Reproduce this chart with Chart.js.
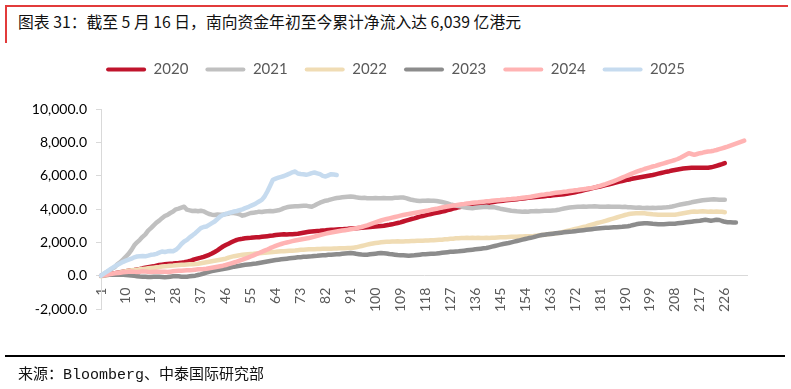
<!DOCTYPE html>
<html>
<head>
<meta charset="utf-8">
<script src="https://cdn.jsdelivr.net/npm/chart.js@4.4.1/dist/chart.umd.min.js"></script>
<style>
  body { margin: 0; background: #fff; }
  #page { position: relative; width: 791px; height: 389px; overflow: hidden; }
  .frameTop { position: absolute; left: 5px; top: 5px; width: 783px; height: 2px; background: #e23b3b; }
  .frameLeft { position: absolute; left: 5px; top: 5px; width: 2px; height: 38px; background: #e23b3b; }
  .title { position: absolute; left: 18px; top: 11px; font: 15.8px "Noto Sans CJK SC", sans-serif; color: #111; line-height: 22px; white-space: nowrap; }
  #chartContainer { position: absolute; left: 0; top: 0; width: 791px; height: 389px; }
  .rule { position: absolute; left: 5px; top: 355px; width: 780px; height: 2px; background: #000; }
  .source { position: absolute; left: 18px; top: 365px; font: 15px "Liberation Mono", "Noto Sans CJK SC", monospace; color: #111; line-height: 22px; white-space: nowrap; }
</style>
</head>
<body>
<div id="page">
  <div class="frameTop"></div>
  <div class="frameLeft"></div>
  <div class="title">图表 31：截至 5 月 16 日，南向资金年初至今累计净流入达 6,039 亿港元</div>
  <div id="chartContainer"><canvas id="flowChart"></canvas></div>
  <div class="rule"></div>
  <div class="source">来源：Bloomberg、中泰国际研究部</div>
</div>
<script>
// trading day number since the start of each year
const days = Array.from({ length: 234 }, (_, i) => String(i + 1));
const yTicks = [-2000, 0, 2000, 4000, 6000, 8000, 10000];

// cumulative southbound net inflow, HKD 100m
const y2020 = [
  0, 30, 60, 90, 110, 140, 170, 200, 230, 260,
  290, 320, 340, 370, 400, 440, 470, 500, 530, 560,
  600, 640, 660, 680, 700, 720, 730, 750, 760, 780,
  800, 830, 880, 940, 990, 1040, 1080, 1130, 1190, 1250,
  1330, 1420, 1520, 1640, 1750, 1840, 1920, 2000, 2080, 2150,
  2190, 2210, 2240, 2260, 2270, 2290, 2300, 2310, 2330, 2350,
  2370, 2390, 2410, 2440, 2460, 2470, 2480, 2470, 2480, 2490,
  2500, 2510, 2540, 2570, 2600, 2630, 2650, 2670, 2680, 2690,
  2710, 2720, 2740, 2750, 2760, 2770, 2780, 2790, 2800, 2810,
  2830, 2840, 2850, 2860, 2870, 2890, 2900, 2920, 2940, 2950,
  2960, 2980, 3000, 3030, 3050, 3080, 3120, 3160, 3200, 3250,
  3300, 3350, 3400, 3440, 3490, 3540, 3580, 3620, 3660, 3700,
  3740, 3770, 3800, 3840, 3880, 3930, 3970, 4020, 4060, 4110,
  4130, 4150, 4170, 4200, 4220, 4240, 4270, 4300, 4330, 4360,
  4380, 4400, 4430, 4460, 4480, 4500, 4520, 4540, 4550, 4570,
  4590, 4610, 4630, 4650, 4670, 4690, 4700, 4720, 4740, 4750,
  4770, 4790, 4800, 4820, 4840, 4860, 4870, 4890, 4910, 4940,
  4970, 5000, 5040, 5080, 5120, 5160, 5200, 5240, 5280, 5320,
  5350, 5390, 5430, 5470, 5510, 5560, 5600, 5640, 5680, 5720,
  5760, 5790, 5830, 5860, 5890, 5920, 5950, 5980, 6010, 6040,
  6080, 6120, 6160, 6200, 6240, 6270, 6310, 6340, 6370, 6400,
  6430, 6450, 6460, 6470, 6470, 6480, 6470, 6480, 6470, 6480,
  6500, 6540, 6590, 6640, 6690, 6750
];
const y2021 = [
  0, 90, 210, 300, 420, 520, 700, 820, 980, 1150,
  1320, 1550, 1820, 2000, 2150, 2330, 2480, 2700, 2850, 3020,
  3180, 3300, 3450, 3580, 3650, 3760, 3850, 3980, 4020, 4080,
  4140, 3960, 3920, 3880, 3900, 3870, 3900, 3860, 3780, 3700,
  3660, 3640, 3670, 3650, 3660, 3700, 3720, 3780, 3760, 3720,
  3680, 3600, 3640, 3700, 3760, 3780, 3800, 3840, 3820, 3850,
  3870, 3880, 3860, 3890, 3920, 3980, 4050, 4100, 4130, 4150,
  4160, 4170, 4180, 4190, 4200, 4160, 4130, 4210, 4300, 4380,
  4440, 4500, 4530, 4580, 4620, 4660, 4680, 4700, 4720, 4740,
  4750, 4730, 4700, 4680, 4660, 4670, 4650, 4640, 4650, 4660,
  4650, 4640, 4660, 4650, 4640, 4650, 4670, 4680, 4690, 4690,
  4650, 4600, 4550, 4520, 4500, 4480, 4500, 4490, 4510, 4500,
  4490, 4480, 4450, 4420, 4380, 4330, 4280, 4240, 4210, 4180,
  4140, 4100, 4080, 4060, 4050, 4070, 4090, 4110, 4120, 4130,
  4110, 4120, 4100, 4060, 4020, 3990, 3960, 3930, 3900, 3880,
  3860, 3850, 3840, 3850, 3840, 3860, 3870, 3880, 3870, 3880,
  3890, 3900, 3890, 3910, 3920, 3950, 3990, 4030, 4060, 4090,
  4110, 4120, 4130, 4140, 4150, 4140, 4150, 4150, 4160, 4150,
  4140, 4140, 4130, 4150, 4140, 4130, 4140, 4130, 4120, 4130,
  4110, 4100, 4090, 4080, 4090, 4070, 4060, 4070, 4060, 4070,
  4060, 4070, 4080, 4090, 4100, 4120, 4150, 4190, 4230, 4270,
  4300, 4330, 4360, 4400, 4430, 4460, 4490, 4520, 4540, 4560,
  4570, 4580, 4570, 4560, 4560, 4550
];
const y2022 = [
  -40, -10, 20, 50, 90, 120, 160, 200, 240, 270,
  300, 320, 340, 360, 380, 400, 420, 440, 460, 480,
  500, 520, 550, 570, 580, 600, 610, 630, 640, 650,
  660, 670, 680, 690, 700, 720, 750, 780, 810, 840,
  870, 900, 930, 960, 990, 1020, 1080, 1130, 1170, 1200,
  1230, 1250, 1270, 1290, 1300, 1310, 1330, 1340, 1360, 1370,
  1390, 1400, 1420, 1430, 1450, 1460, 1470, 1480, 1490, 1500,
  1510, 1530, 1550, 1560, 1570, 1580, 1590, 1590, 1600, 1600,
  1610, 1610, 1620, 1620, 1630, 1630, 1640, 1640, 1650, 1660,
  1660, 1680, 1700, 1740, 1780, 1820, 1860, 1900, 1930, 1960,
  1980, 2000, 2020, 2030, 2040, 2050, 2050, 2060, 2050, 2050,
  2060, 2070, 2080, 2080, 2090, 2090, 2100, 2110, 2110, 2120,
  2130, 2140, 2150, 2160, 2180, 2190, 2210, 2220, 2240, 2250,
  2260, 2260, 2270, 2260, 2270, 2260, 2270, 2260, 2260, 2270,
  2260, 2270, 2280, 2290, 2300, 2310, 2310, 2320, 2330, 2340,
  2340, 2350, 2350, 2360, 2360, 2370, 2380, 2400, 2420, 2440,
  2460, 2480, 2500, 2520, 2540, 2560, 2600, 2640, 2680, 2720,
  2760, 2800, 2840, 2880, 2920, 2960, 3010, 3060, 3110, 3160,
  3200, 3240, 3290, 3340, 3390, 3440, 3490, 3540, 3590, 3640,
  3680, 3710, 3730, 3740, 3750, 3760, 3740, 3720, 3700, 3680,
  3670, 3660, 3650, 3660, 3650, 3660, 3650, 3660, 3680, 3710,
  3740, 3770, 3800, 3830, 3850, 3840, 3850, 3860, 3850, 3840,
  3850, 3840, 3850, 3840, 3830, 3810
];
const y2023 = [
  0, 20, 40, 60, 50, 60, 70, 60, 50, 40,
  30, 10, -10, -30, -50, -60, -70, -80, -80, -70,
  -60, -70, -80, -90, -80, -60, -40, -30, -40, -60,
  -70, -60, -40, -20, 0, 40, 80, 130, 180, 230,
  270, 310, 340, 370, 400, 430, 460, 500, 540, 570,
  600, 630, 650, 670, 690, 710, 730, 760, 790, 820,
  850, 880, 910, 940, 960, 980, 1000, 1020, 1040, 1060,
  1080, 1100, 1110, 1130, 1140, 1150, 1160, 1180, 1190, 1210,
  1220, 1230, 1250, 1260, 1270, 1280, 1290, 1310, 1330, 1350,
  1360, 1340, 1310, 1290, 1270, 1260, 1260, 1280, 1300, 1320,
  1340, 1360, 1350, 1330, 1300, 1280, 1260, 1240, 1230, 1220,
  1210, 1200, 1210, 1220, 1240, 1260, 1280, 1290, 1300, 1310,
  1320, 1330, 1350, 1370, 1390, 1410, 1430, 1440, 1450, 1460,
  1480, 1500, 1520, 1540, 1560, 1580, 1600, 1620, 1640, 1660,
  1700, 1740, 1780, 1820, 1860, 1900, 1930, 1960, 2000, 2040,
  2080, 2120, 2160, 2200, 2240, 2270, 2310, 2360, 2400, 2440,
  2460, 2480, 2500, 2520, 2540, 2560, 2580, 2600, 2620, 2640,
  2650, 2670, 2690, 2710, 2730, 2750, 2770, 2790, 2810, 2830,
  2850, 2860, 2870, 2880, 2890, 2900, 2910, 2920, 2930, 2950,
  2970, 3000, 3040, 3080, 3110, 3130, 3150, 3150, 3130, 3110,
  3100, 3090, 3080, 3090, 3100, 3110, 3110, 3120, 3140, 3160,
  3180, 3200, 3220, 3240, 3260, 3280, 3300, 3330, 3350, 3330,
  3300, 3320, 3350, 3340, 3280, 3230, 3210, 3200, 3190, 3190
];
const y2024 = [
  0, 30, 60, 90, 110, 140, 160, 180, 200, 220,
  240, 250, 230, 220, 240, 260, 250, 230, 220, 240,
  250, 240, 240, 230, 220, 240, 260, 280, 290, 300,
  310, 320, 330, 340, 360, 380, 390, 400, 420, 450,
  480, 510, 540, 570, 600, 640, 690, 740, 790, 840,
  900, 960, 1020, 1080, 1150, 1220, 1290, 1360, 1430, 1500,
  1570, 1650, 1720, 1790, 1850, 1900, 1950, 1990, 2030, 2070,
  2110, 2140, 2170, 2200, 2230, 2260, 2300, 2340, 2390, 2440,
  2480, 2520, 2560, 2590, 2620, 2650, 2680, 2710, 2730, 2750,
  2780, 2810, 2840, 2880, 2920, 2970, 3020, 3080, 3140, 3200,
  3260, 3310, 3360, 3400, 3440, 3480, 3520, 3560, 3600, 3640,
  3670, 3700, 3730, 3760, 3790, 3820, 3850, 3880, 3910, 3950,
  3980, 4010, 4050, 4090, 4120, 4150, 4180, 4210, 4230, 4260,
  4280, 4300, 4330, 4350, 4370, 4390, 4400, 4420, 4440, 4460,
  4470, 4490, 4510, 4530, 4540, 4560, 4570, 4590, 4600, 4620,
  4630, 4650, 4670, 4690, 4710, 4730, 4760, 4790, 4820, 4850,
  4870, 4900, 4920, 4950, 4970, 4990, 5010, 5030, 5050, 5080,
  5100, 5120, 5140, 5170, 5190, 5210, 5240, 5260, 5300, 5340,
  5390, 5440, 5490, 5550, 5610, 5670, 5740, 5810, 5880, 5950,
  6020, 6090, 6160, 6230, 6290, 6340, 6400, 6450, 6500, 6550,
  6590, 6640, 6690, 6740, 6790, 6840, 6890, 6940, 7000, 7080,
  7170, 7260, 7350, 7300, 7250, 7300, 7350, 7380, 7420, 7450,
  7470, 7500, 7540, 7590, 7640, 7690, 7740, 7800, 7860, 7920,
  7980, 8040, 8100
];
const y2025 = [
  0, 120, 230, 340, 450, 560, 650, 740, 830, 900,
  960, 1020, 1100, 1150, 1170, 1180, 1160, 1200, 1250, 1270,
  1310, 1380, 1450, 1420, 1460, 1480, 1460, 1550, 1700, 1900,
  2050, 2150, 2300, 2420, 2550, 2700, 2850, 2920, 2950, 3050,
  3150, 3250, 3400, 3550, 3650, 3700, 3760, 3800, 3850, 3880,
  3930, 3980, 4050, 4110, 4190, 4260, 4350, 4450, 4550, 4750,
  5050, 5400, 5750, 5820, 5880, 5930, 5980, 6050, 6120, 6200,
  6250, 6130, 6100, 6080, 6050, 6090, 6150, 6190, 6140, 6090,
  5990, 5950, 6020, 6090, 6070, 6039
];

const seriesNames = ['2020', '2021', '2022', '2023', '2024', '2025'];
const seriesData = [y2020, y2021, y2022, y2023, y2024, y2025];
const seriesColors = ['#c0142c', '#c0c0c0', '#f0dcb4', '#8c8c8c', '#ffb3b3', '#c6dbef'];

const fmt = v => v.toLocaleString('en-US', { minimumFractionDigits: 1, maximumFractionDigits: 1 });

// legend is taller than its content so the plot starts lower, like the original
const legendGap = {
  id: 'legendGap',
  beforeInit(chart) {
    const fit = chart.legend.fit;
    chart.legend.fit = function () {
      fit.call(this);
      this.height += 22;
    };
  }
};

const ctx = document.getElementById('flowChart').getContext('2d');
new Chart(ctx, {
  type: 'line',
  data: {
    labels: days,
    datasets: seriesNames.map((name, i) => ({
      label: name,
      data: seriesData[i],
      borderColor: seriesColors[i],
      backgroundColor: seriesColors[i],
      borderWidth: 4.5,
      pointRadius: 0,
      borderJoinStyle: 'round',
      borderCapStyle: 'round',
      tension: 0,
      order: seriesNames.length - i
    }))
  },
  options: {
    responsive: true,
    maintainAspectRatio: false,
    animation: false,
    layout: { padding: { top: 45, left: 0, right: 0, bottom: 80 } },
    scales: {
      x: {
        type: 'category',
        position: { y: 0 },
        offset: false,
        grid: { display: false, drawTicks: false },
        border: { display: true, color: '#d9d9d9', width: 1 },
        ticks: {
          autoSkip: false,
          minRotation: 90,
          maxRotation: 90,
          padding: 12,
          color: '#595959',
          font: { family: 'Lato', size: 14 },
          callback: (v, i) => (i % 9 === 0 ? days[i] : '')
        }
      },
      y: {
        min: -2000,
        max: 10000,
        afterFit: scale => { scale.width = 101; },
        afterBuildTicks: scale => { scale.ticks = yTicks.map(v => ({ value: v })); },
        grid: { drawOnChartArea: false, drawTicks: true, tickLength: 5, tickColor: '#d9d9d9' },
        border: { display: true, color: '#d9d9d9', width: 1 },
        ticks: {
          padding: 9,
          color: '#000',
          font: { family: 'Lato', size: 14 },
          callback: v => fmt(v)
        }
      },
      // empty right margin, keeps the legend centred on the whole page
      spacer: {
        type: 'linear',
        position: 'right',
        display: true,
        afterFit: scale => { scale.width = 44; },
        grid: { display: false, drawTicks: false },
        border: { display: false },
        ticks: { display: false }
      }
    },
    plugins: {
      legend: {
        position: 'top',
        labels: {
          boxWidth: 40,
          boxHeight: 4,
          padding: 17,
          color: '#595959',
          font: { family: 'Lato', size: 15 },
          sort: (a, b) => a.datasetIndex - b.datasetIndex,
          generateLabels: chart => {
            const items = Chart.defaults.plugins.legend.labels.generateLabels(chart);
            items.forEach(it => { it.lineWidth = 0; it.borderRadius = 2; });
            return items;
          }
        }
      },
      tooltip: { enabled: false }
    }
  },
  plugins: [legendGap]
});
</script>
</body>
</html>
